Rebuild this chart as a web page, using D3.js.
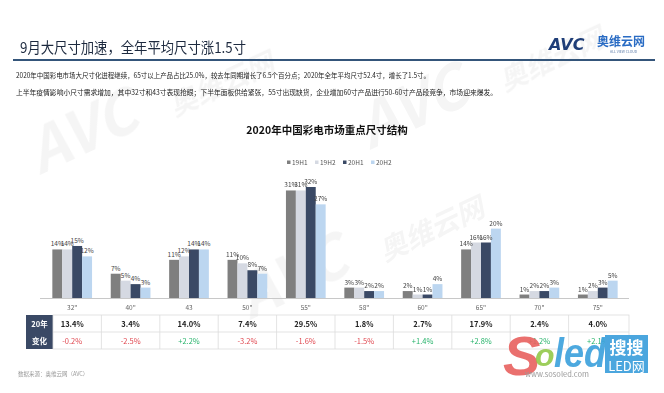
<!DOCTYPE html>
<html>
<head>
<meta charset="utf-8">
<script src="https://cdn.jsdelivr.net/npm/d3@7"></script>
<style>
  body { margin: 0; background: #fff; }
  svg { display: block; font-family: "Noto Sans CJK SC", "Noto Sans", sans-serif; }
</style>
</head>
<body>
<div id="chart"></div>
<script>
const sizes = ['32"', '40"', '43', '50"', '55"', '58"', '60"', '65"', '70"', '75"']
const seriesNames = ['19H1', '19H2', '20H1', '20H2']
const v19H1 = [14, 7, 11, 11, 31, 3, 2, 14, 1, 1]
const v19H2 = [14, 5, 12, 10, 31, 3, 1, 16, 2, 2]
const v20H1 = [15, 4, 14, 8, 32, 2, 1, 16, 2, 3]
const v20H2 = [12, 3, 14, 7, 27, 2, 4, 20, 3, 5]
const share2020 = ['13.4%', '3.4%', '14.0%', '7.4%', '29.5%', '1.8%', '2.7%', '17.9%', '2.4%', '4.0%']
const change2020 = ['-0.2%', '-2.5%', '+2.2%', '-3.2%', '-1.6%', '-1.5%', '+1.4%', '+2.8%', '+1.2%', '+2.1%']

const colors = ['#7f7f7f', '#d5d9e2', '#3a4965', '#bcd6f0']
const width = 664, height = 393

const svg = d3.select('#chart').append('svg')
  .attr('width', width)
  .attr('height', height)

// faint watermarks
const wm = svg.append('g').attr('fill', '#000').attr('opacity', 0.04)
  .attr('font-weight', 'bold').attr('font-style', 'italic')
;[[40, 175], [370, 150], [250, 320]].forEach(([x, y]) => {
  wm.append('text').attr('transform', `translate(${x},${y}) rotate(-25)`)
    .attr('font-size', 60).text('AVC')
  wm.append('text').attr('transform', `translate(${x + 135},${y - 58}) rotate(-25)`)
    .attr('font-size', 28).text('奥维云网')
})

// header
svg.append('text').attr('x', 20).attr('y', 53)
  .attr('font-size', 15).attr('fill', '#1d2a3f')
  .attr('textLength', 226).attr('lengthAdjust', 'spacingAndGlyphs')
  .text('9月大尺寸加速，全年平均尺寸涨1.5寸')
svg.append('line').attr('x1', 13).attr('x2', 655).attr('y1', 60).attr('y2', 60)
  .attr('stroke', '#34557a').attr('stroke-width', 2)

svg.append('text').attr('x', 549).attr('y', 50)
  .attr('font-size', 16).attr('font-weight', 'bold').attr('font-style', 'italic')
  .attr('fill', '#1f3e78').attr('font-family', 'DejaVu Sans').text('AVC')
svg.append('text').attr('x', 597).attr('y', 46)
  .attr('font-size', 12).attr('font-weight', 'bold').attr('fill', '#2a6cc4').text('奥维云网')
svg.append('text').attr('x', 610).attr('y', 53)
  .attr('font-size', 3.5).attr('fill', '#5a7aa8').text('ALL VIEW CLOUD')

svg.append('text').attr('x', 16).attr('y', 78)
  .attr('font-size', 7).attr('fill', '#222')
  .attr('textLength', 414).attr('lengthAdjust', 'spacingAndGlyphs')
  .text('2020年中国彩电市场大尺寸化进程继续，65寸以上产品占比25.0%，较去年同期增长了6.5个百分点；2020年全年平均尺寸52.4寸，增长了1.5寸。')
svg.append('text').attr('x', 16).attr('y', 95)
  .attr('font-size', 7).attr('fill', '#222')
  .attr('textLength', 481).attr('lengthAdjust', 'spacingAndGlyphs')
  .text('上半年疫情影响小尺寸需求增加，其中32寸和43寸表现抢眼；下半年面板供给紧张，55寸出现缺货，企业增加60寸产品进行50-60寸产品段竞争，市场迎来爆发。')

// chart title
svg.append('text').attr('x', 327).attr('y', 134).attr('text-anchor', 'middle')
  .attr('font-size', 10.5).attr('font-weight', 'bold').attr('fill', '#111')
  .text('2020年中国彩电市场重点尺寸结构')

// legend
const legend = svg.append('g').attr('font-size', 6.5).attr('fill', '#555')
const legendX = [287, 315, 343, 371]
seriesNames.forEach((name, i) => {
  legend.append('rect').attr('x', legendX[i]).attr('y', 160.5).attr('width', 3.5).attr('height', 3.5)
    .attr('fill', colors[i])
  legend.append('text').attr('x', legendX[i] + 5).attr('y', 165).text(name)
})

// scales
const baseY = 298
const x0 = d3.scaleBand().domain(sizes).range([43, 627]).paddingInner(0.32).paddingOuter(0.16)
const x1 = d3.scaleBand().domain(seriesNames).range([0, x0.bandwidth()])
const y = d3.scaleLinear().domain([0, 32]).range([baseY, 187])

const data = sizes.map((s, i) => ({
  size: s,
  vals: [v19H1[i], v19H2[i], v20H1[i], v20H2[i]]
}))

const groups = svg.append('g').selectAll('g').data(data).join('g')
  .attr('transform', d => `translate(${x0(d.size)},0)`)

groups.selectAll('rect').data(d => d.vals.map((v, i) => ({ v, k: seriesNames[i], i })))
  .join('rect')
  .attr('x', d => x1(d.k))
  .attr('y', d => y(d.v))
  .attr('width', x1.bandwidth())
  .attr('height', d => baseY - y(d.v))
  .attr('fill', d => colors[d.i])

groups.selectAll('text').data(d => d.vals.map((v, i) => ({ v, k: seriesNames[i] })))
  .join('text')
  .attr('x', d => x1(d.k) + x1.bandwidth() / 2)
  .attr('y', d => y(d.v) - 3)
  .attr('text-anchor', 'middle')
  .attr('font-size', 6.5).attr('fill', '#444')
  .text(d => d.v + '%')

// axis
const xAxis = svg.append('g').attr('transform', `translate(0,${baseY})`)
  .call(d3.axisBottom(x0).tickSize(0).tickPadding(7))
xAxis.select('.domain').attr('stroke', '#c8c8c8').attr('d', 'M40,0.5H629')
xAxis.selectAll('text').attr('font-size', 6.5).attr('fill', '#666')
  .attr('font-family', '"Noto Sans CJK SC", sans-serif')

// table
const tTop = 315, rowH = 17
const cellX = d => x0(d) - x0.step() * x0.paddingInner() / 2
svg.append('rect').attr('x', 26).attr('y', tTop).attr('width', 27).attr('height', rowH * 2)
  .attr('fill', '#3a4965')
svg.append('text').attr('x', 39.5).attr('y', tTop + 12).attr('text-anchor', 'middle')
  .attr('font-size', 7.5).attr('font-weight', 'bold').attr('fill', '#fff').text('20年')
svg.append('text').attr('x', 39.5).attr('y', tTop + rowH + 12).attr('text-anchor', 'middle')
  .attr('font-size', 7.5).attr('font-weight', 'bold').attr('fill', '#fff').text('变化')

const grid = svg.append('g').attr('stroke', '#dcdcdc').attr('stroke-width', 0.8)
grid.append('rect').attr('x', 53).attr('y', tTop).attr('width', 576).attr('height', rowH * 2)
  .attr('fill', 'none')
grid.append('line').attr('x1', 53).attr('x2', 629).attr('y1', tTop + rowH).attr('y2', tTop + rowH)
sizes.slice(1).forEach(s => {
  grid.append('line').attr('x1', cellX(s)).attr('x2', cellX(s)).attr('y1', tTop).attr('y2', tTop + rowH * 2)
})

const cx = s => x0(s) + x0.bandwidth() / 2
svg.append('g').selectAll('text').data(sizes).join('text')
  .attr('x', d => cx(d)).attr('y', tTop + 12)
  .attr('text-anchor', 'middle').attr('font-size', 7.5).attr('font-weight', 'bold').attr('fill', '#222')
  .text((d, i) => share2020[i])
svg.append('g').selectAll('text').data(sizes).join('text')
  .attr('x', d => cx(d)).attr('y', tTop + rowH + 12)
  .attr('text-anchor', 'middle').attr('font-size', 7.5)
  .attr('fill', (d, i) => change2020[i][0] === '+' ? '#27b36b' : '#e0474f')
  .text((d, i) => change2020[i])

svg.append('text').attr('x', 18).attr('y', 376).attr('font-size', 5.5).attr('fill', '#999')
  .text('数据来源：奥维云网（AVC）')

// sosoled logo
const logo = svg.append('g').attr('transform', 'translate(500,320)')
logo.append('text').attr('x', 3).attr('y', 55).attr('font-size', 56).attr('font-weight', 'bold')
  .attr('font-style', 'italic').attr('fill', '#e8615f').attr('opacity', 0.9)
  .attr('font-family', 'Liberation Sans').text('S')
logo.append('text').attr('x', 35).attr('y', 46).attr('font-size', 32).attr('font-weight', 'bold')
  .attr('font-style', 'italic').attr('fill', '#8cc63f').attr('opacity', 0.85)
  .attr('font-family', 'Liberation Sans').text('o')
logo.append('text').attr('x', 54).attr('y', 47).attr('font-size', 40).attr('font-weight', 'bold')
  .attr('font-style', 'italic').attr('fill', '#3aa0dc').attr('opacity', 0.9)
  .attr('font-family', 'Liberation Sans').attr('textLength', 52).attr('lengthAdjust', 'spacingAndGlyphs').text('led')
logo.append('rect').attr('x', 105).attr('y', 15).attr('width', 43).attr('height', 38).attr('fill', '#4ba6de')
logo.append('text').attr('x', 126.5).attr('y', 34).attr('text-anchor', 'middle').attr('font-size', 17)
  .attr('font-weight', 'bold').attr('fill', '#fff').text('搜搜')
logo.append('text').attr('x', 126.5).attr('y', 51).attr('text-anchor', 'middle').attr('font-size', 13)
  .attr('fill', '#fff').text('LED网')
logo.append('text').attr('x', 25).attr('y', 57).attr('font-size', 7.5).attr('fill', '#9a9a9a').text('www.sosoled.com')
</script>
</body>
</html>
